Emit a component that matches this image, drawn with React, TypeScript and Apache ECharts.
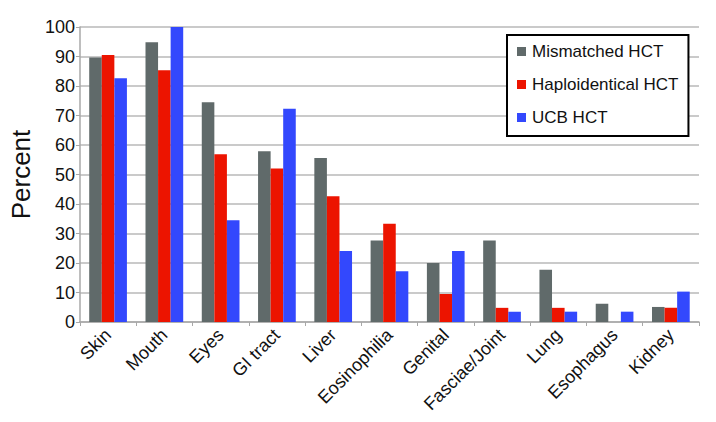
import React, { useEffect, useRef } from "react";
import * as echarts from "echarts";

const categories = ["Skin", "Mouth", "Eyes", "GI tract", "Liver", "Eosinophilia", "Genital", "Fasciae/Joint", "Lung", "Esophagus", "Kidney"];
const mismatched = [89.7, 94.8, 74.5, 57.9, 55.6, 27.6, 20.0, 27.6, 17.7, 6.2, 5.1];
const haplo = [90.5, 85.3, 56.9, 52.0, 42.6, 33.3, 9.5, 4.8, 4.8, 0, 4.8];
const ucb = [82.6, 100, 34.5, 72.3, 24.1, 17.2, 24.1, 3.5, 3.5, 3.5, 10.3];
const seriesNames = ["Mismatched HCT", "Haploidentical HCT", "UCB HCT"];
const colors = ["#606a6a", "#ec1400", "#3348fd"];

export default function App() {
  const ref = useRef<HTMLDivElement>(null);
  useEffect(() => {
    const chart = echarts.init(ref.current!, null, { renderer: "svg" });
    const font = "Liberation Sans, Arial, Helvetica, sans-serif";
    chart.setOption({
      animation: false,
      textStyle: { fontFamily: font },
      grid: { left: 62, right: 17, top: 27, bottom: 100 },
      legend: {
        orient: "vertical",
        left: 507,
        top: 35,
        width: 180,
        padding: [8, 10, 10, 10],
        itemGap: 16,
        itemWidth: 9,
        itemHeight: 9,
        icon: "rect",
        backgroundColor: "#ffffff",
        borderColor: "#000000",
        borderWidth: 2,
        textStyle: { fontSize: 17, color: "#111", fontFamily: font, padding: [0, 0, 0, 1] },
        data: seriesNames,
      },
      xAxis: {
        type: "category",
        data: categories,
        axisLine: { lineStyle: { color: "#a8a8a8", width: 1.5 } },
        axisTick: { show: true, length: 4, lineStyle: { color: "#a8a8a8" } },
        axisLabel: { rotate: 45, fontSize: 18, color: "#111", margin: 10, interval: 0, fontFamily: font },
      },
      yAxis: {
        type: "value",
        min: 0,
        max: 100,
        interval: 10,
        name: "Percent",
        nameLocation: "middle",
        nameGap: 42,
        nameTextStyle: { fontSize: 26, color: "#111", fontFamily: font },
        axisLine: { show: true, lineStyle: { color: "#a8a8a8", width: 1.5 } },
        axisTick: { show: true, length: 4, lineStyle: { color: "#a8a8a8" } },
        axisLabel: { fontSize: 18, color: "#111", margin: 5, fontFamily: font },
        splitLine: { lineStyle: { color: "#b8b8b8", width: 1.5 } },
      },
      series: [mismatched, haplo, ucb].map((d, i) => ({
        name: seriesNames[i],
        type: "bar",
        data: d,
        barGap: "0%",
        barCategoryGap: "33%",
        itemStyle: { color: colors[i] },
      })),
    });
    return () => chart.dispose();
  }, []);
  return <div ref={ref} style={{ width: 716, height: 422, position: "absolute", left: 0, top: 0 }} />;
}
